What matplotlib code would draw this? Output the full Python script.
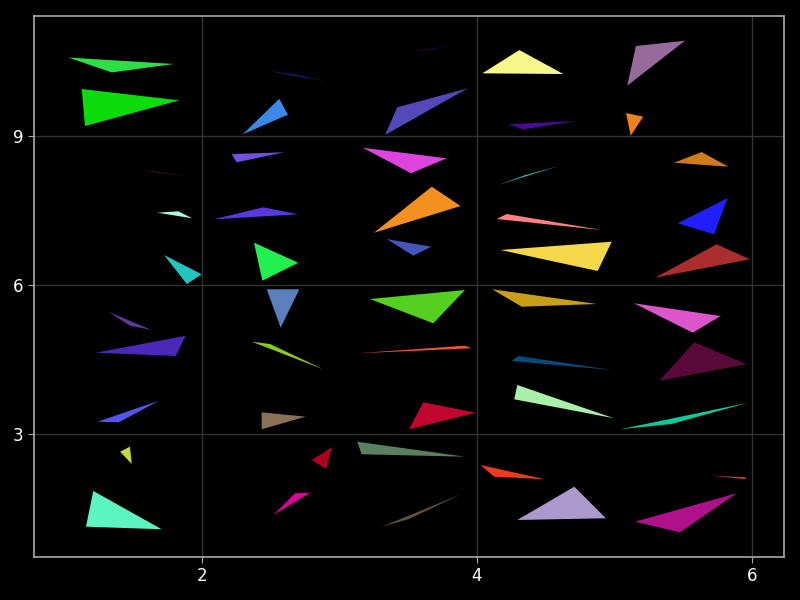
import matplotlib
matplotlib.use("Agg")
import matplotlib.pyplot as plt

# triangle corners, one row per triangle
tri_x = [
    [1.028, 1.796, 1.343], [1.125, 1.833, 1.149], [2.480, 2.895, 2.676],
    [2.296, 2.562, 2.625], [2.216, 2.596, 2.252], [1.537, 1.908, 1.695],
    [1.675, 1.828, 1.929], [2.082, 2.446, 2.700], [1.724, 1.998, 1.889],
    [2.378, 2.700, 2.439], [3.476, 3.835, 3.650], [3.331, 3.420, 3.932],
    [4.039, 4.308, 4.628], [4.228, 4.337, 4.718], [3.169, 3.780, 3.520],
    [3.251, 3.671, 3.881], [3.343, 3.668, 3.537], [4.153, 4.596, 4.349],
    [4.143, 4.216, 4.907], [4.172, 4.980, 4.878], [5.093, 5.156, 5.513],
    [5.084, 5.209, 5.118], [5.433, 5.634, 5.828], [5.460, 5.823, 5.724],
    [5.295, 5.743, 5.985], [2.471, 2.708, 2.572], [1.319, 1.476, 1.634],
    [1.229, 1.881, 1.809], [2.361, 2.495, 2.882], [1.241, 1.687, 1.396],
    [2.434, 2.754, 2.434], [1.404, 1.476, 1.489], [1.209, 1.707, 1.156],
    [2.519, 2.676, 2.785], [3.222, 3.913, 3.682], [3.125, 3.913, 3.961],
    [3.505, 3.609, 3.991], [2.798, 2.943, 2.902], [3.129, 3.913, 3.161],
    [3.307, 3.500, 3.889], [4.111, 4.325, 4.871], [4.252, 4.300, 4.980],
    [4.271, 4.293, 4.996], [4.027, 4.124, 4.495], [4.293, 4.708, 4.938],
    [5.142, 5.772, 5.569], [5.326, 5.580, 5.961], [5.040, 5.416, 5.973],
    [5.707, 5.961, 5.949], [5.149, 5.889, 5.476],
]
tri_y = [
    [10.58, 10.45, 10.28], [9.946, 9.719, 9.201], [10.309, 10.107, 10.238],
    [9.034, 9.751, 9.429], [8.638, 8.672, 8.470], [8.330, 8.181, 8.252],
    [7.456, 7.484, 7.343], [7.323, 7.565, 7.424], [6.604, 6.216, 6.020],
    [6.852, 6.449, 6.087], [10.677, 10.832, 10.732], [9.020, 9.578, 9.960],
    [10.262, 10.731, 10.248], [9.236, 9.135, 9.302], [8.764, 8.551, 8.249],
    [7.053, 7.979, 7.591], [6.926, 6.771, 6.590], [8.013, 8.396, 8.212],
    [7.329, 7.430, 7.107], [6.705, 6.872, 6.282], [10.013, 10.812, 10.919],
    [9.463, 9.389, 9.006], [8.462, 8.678, 8.382], [7.242, 7.752, 7.021],
    [6.147, 6.820, 6.518], [5.914, 5.914, 5.141], [5.463, 5.181, 5.094],
    [4.637, 4.979, 4.571], [4.859, 4.812, 4.303], [3.248, 3.671, 3.236],
    [3.437, 3.349, 3.095], [2.644, 2.745, 2.396], [1.853, 1.082, 1.134],
    [1.370, 1.807, 1.819], [5.718, 5.900, 5.229], [4.625, 4.778, 4.726],
    [3.095, 3.639, 3.429], [2.477, 2.733, 2.296], [2.845, 2.543, 2.592],
    [1.134, 1.283, 1.792], [5.914, 5.563, 5.618], [4.470, 4.571, 4.289],
    [3.699, 3.987, 3.317], [2.376, 2.141, 2.088], [1.269, 1.939, 1.303],
    [5.632, 5.376, 5.040], [4.074, 4.847, 4.404], [3.095, 3.202, 3.631],
    [2.161, 2.129, 2.088], [1.235, 1.807, 1.021],
]
tri_colors = [
    '#2ede44', '#0cdc0c', '#1a2a9a', '#3d88e6', '#7050e0', '#4a2a08',
    '#aaf8e0', '#5a38e0', '#22c4c0', '#22f04e', '#2a0a3a', '#5548b8',
    '#f8f88a', '#4a0a9a', '#dd44dd', '#f39020', '#4455bb', '#30b0b0',
    '#ff8080', '#f4d84a', '#966a9a', '#f08018', '#d07a18', '#2020ff',
    '#aa2e2e', '#5a80bb', '#5a3a9a', '#4a28b8', '#88cc22', '#5555ee',
    '#8a7055', '#c8d840', '#5af5c0', '#dd0099', '#55d020', '#ee5533',
    '#c0062e', '#b00020', '#5a8060', '#605040', '#c8a018', '#0a4a7a',
    '#aaf0aa', '#ee3a1a', '#aa99cc', '#dd55cc', '#5a0a3a', '#10c89a',
    '#b04020', '#b0108a',
]

xticks = [2, 4, 6]
yticks = [3, 6, 9]

fig = plt.figure(figsize=(8, 6), dpi=100, facecolor='black')
ax = fig.add_axes([0.0425, 0.0717, 0.9375, 0.9016])
ax.set_facecolor('black')

for xs, ys, c in zip(tri_x, tri_y, tri_colors):
    ax.fill(xs, ys, color=c, linewidth=0)

ax.set_xlim(0.778, 6.233)
ax.set_ylim(0.524, 11.416)
ax.set_xticks(xticks)
ax.set_yticks(yticks)
ax.set_axisbelow(True)
ax.grid(True, color='#333333', linewidth=1)
for s in ax.spines.values():
    s.set_color('#aaaaaa')
    s.set_linewidth(1.2)
ax.tick_params(colors='#aaaaaa', labelcolor='white', labelsize=12, length=4)

fig.savefig('out.png', dpi=100, facecolor='black')
